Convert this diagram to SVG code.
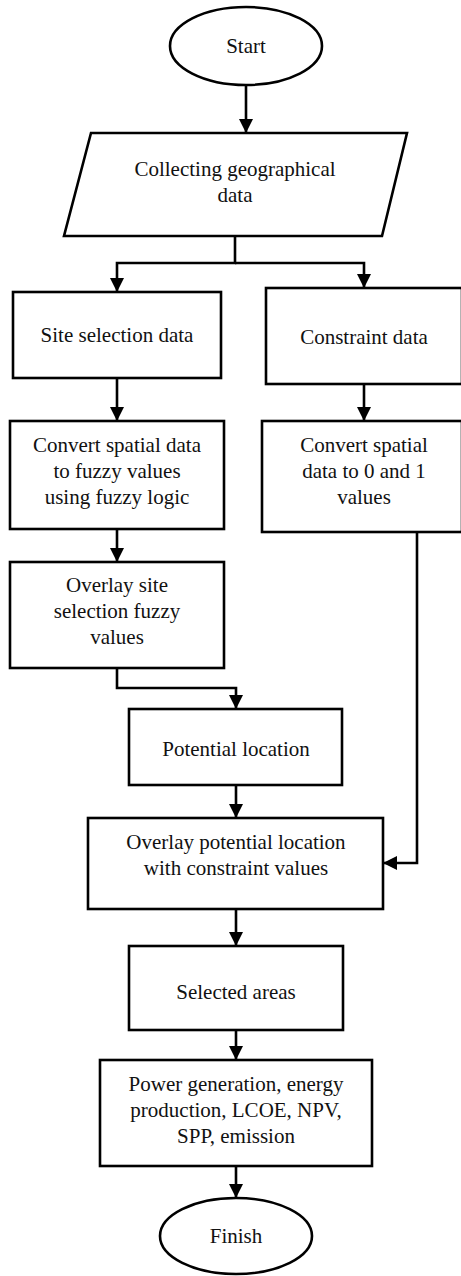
<svg xmlns="http://www.w3.org/2000/svg" width="461" height="1276" viewBox="0 0 461 1276">
<style>
.s{fill:#fff;stroke:#000;stroke-width:2.6}
.t{font-family:"Liberation Serif","Times New Roman",serif;font-size:21px;fill:#111;text-anchor:middle}
.c{fill:none;stroke:#000;stroke-width:2.6}
</style>
<defs>
<marker id="ah" markerUnits="userSpaceOnUse" markerWidth="14" markerHeight="14" refX="14" refY="7" orient="auto" viewBox="0 0 14 14">
<path d="M0,0 L14,7 L0,14 Z" fill="#000"/>
</marker>
</defs>
<rect width="461" height="1276" fill="#fff"/>
<g id="start"><ellipse class="s" cx="246" cy="46" rx="76" ry="39"/><text class="t" x="246" y="53">Start</text></g>
<g id="collect"><polygon class="s" points="91,133 407,133 382,236 64,236"/><text class="t" x="235" y="176">Collecting geographical</text><text class="t" x="235" y="202">data</text></g>
<g id="site"><rect class="s" x="13" y="292" width="208" height="86"/><text class="t" x="117" y="342">Site selection data</text></g>
<g id="constraint"><rect class="s" x="266" y="288" width="196" height="96"/><text class="t" x="364" y="344">Constraint data</text></g>
<g id="convfuzzy"><rect class="s" x="10" y="421" width="214" height="108"/><text class="t" x="117" y="452">Convert spatial data</text><text class="t" x="117" y="478">to fuzzy values</text><text class="t" x="117" y="504">using fuzzy logic</text></g>
<g id="conv01"><rect class="s" x="262" y="421" width="200" height="111"/><text class="t" x="364" y="452">Convert spatial</text><text class="t" x="364" y="478">data to 0 and 1</text><text class="t" x="364" y="504">values</text></g>
<g id="overlayfuzzy"><rect class="s" x="10" y="562" width="214" height="106"/><text class="t" x="117" y="592">Overlay site</text><text class="t" x="117" y="618">selection fuzzy</text><text class="t" x="117" y="644">values</text></g>
<g id="potential"><rect class="s" x="129" y="709" width="213" height="76"/><text class="t" x="236" y="756">Potential location</text></g>
<g id="overlaypot"><rect class="s" x="88" y="818" width="295" height="91"/><text class="t" x="236" y="849">Overlay potential location</text><text class="t" x="236" y="875">with constraint values</text></g>
<g id="selected"><rect class="s" x="129" y="946" width="214" height="84"/><text class="t" x="236" y="999">Selected areas</text></g>
<g id="power"><rect class="s" x="100" y="1060" width="272" height="106"/><text class="t" x="236" y="1091">Power generation, energy</text><text class="t" x="236" y="1117">production, LCOE, NPV,</text><text class="t" x="236" y="1143">SPP, emission</text></g>
<g id="finish"><ellipse class="s" cx="236" cy="1236" rx="76" ry="38"/><text class="t" x="236" y="1243">Finish</text></g>
<g id="connectors">
<path class="c" d="M246,85 V133" marker-end="url(#ah)"/>
<path class="c" d="M235,236 V263 H117 V292" marker-end="url(#ah)"/>
<path class="c" d="M235,263 H364 V288" marker-end="url(#ah)"/>
<path class="c" d="M117,378 V421" marker-end="url(#ah)"/>
<path class="c" d="M364,384 V421" marker-end="url(#ah)"/>
<path class="c" d="M117,529 V562" marker-end="url(#ah)"/>
<path class="c" d="M117,668 V688 H236 V709" marker-end="url(#ah)"/>
<path class="c" d="M417,532 V863 H383" marker-end="url(#ah)"/>
<path class="c" d="M236,785 V818" marker-end="url(#ah)"/>
<path class="c" d="M236,909 V946" marker-end="url(#ah)"/>
<path class="c" d="M236,1030 V1060" marker-end="url(#ah)"/>
<path class="c" d="M236,1166 V1198" marker-end="url(#ah)"/>
</g>
</svg>
